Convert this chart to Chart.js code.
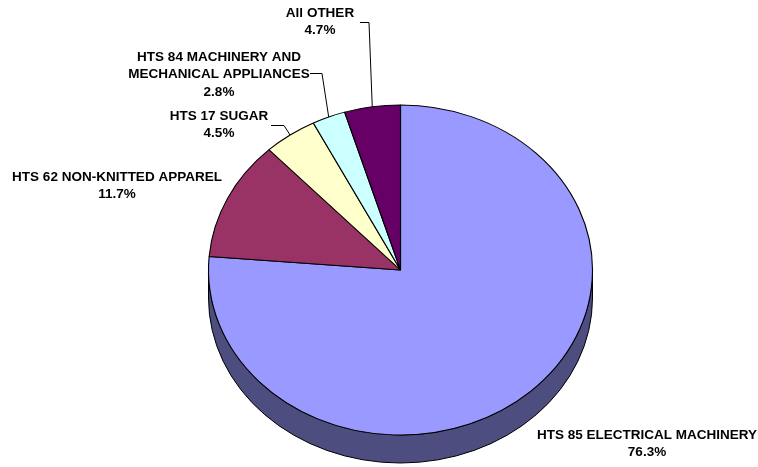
<!DOCTYPE html>
<html><head><meta charset="utf-8">
<script src="https://cdn.jsdelivr.net/npm/chart.js@4/dist/chart.umd.min.js"></script>
<style>html,body{margin:0;padding:0;background:#fff;}#wrap{width:758px;height:467px;}</style>
</head><body><div id="wrap"><canvas id="c" width="758" height="467"></canvas></div>
<script>
const categories = [
  ['HTS 85 ELECTRICAL MACHINERY'],
  ['HTS 62 NON-KNITTED APPAREL'],
  ['HTS 17 SUGAR'],
  ['HTS 84 MACHINERY AND', 'MECHANICAL APPLIANCES'],
  ['All OTHER']
];
const shares = [76.3, 11.7, 4.5, 2.8, 4.7];
const colors = ['#9999FF', '#993366', '#FFFFCC', '#CCFFFF', '#660066'];

// layout of the projected pie and its labels
const GEO = {cx: 400.5, cy: 270, rx: 192, ry: 165, depth: 28};
const LABELS = [
  {x: 647, y: 435, leader: null},
  {x: 117, y: 177, leader: null},
  {x: 219, y: 116, leader: [[271, 125], [284, 125]]},
  {x: 219, y: 57, leader: [[310, 73], [322, 73]]},
  {x: 320, y: 13, leader: [[360, 22], [369, 22]]}
];

function darken(hex, f) {
  const n = parseInt(hex.slice(1), 16);
  const r = Math.round(((n >> 16) & 255) * f), g = Math.round(((n >> 8) & 255) * f), b = Math.round((n & 255) * f);
  return `rgb(${r},${g},${b})`;
}

const pie3d = {
  id: 'pie3d',
  beforeDatasetsDraw(chart) {
    const ctx = chart.ctx;
    const meta = chart.getDatasetMeta(0);
    const {cx, cy, rx, ry, depth} = GEO;
    ctx.save();
    meta.data.forEach((arc, i) => {
      const a = Math.max(arc.startAngle, 0), b = Math.min(arc.endAngle, Math.PI);
      if (b <= a) return;
      ctx.beginPath();
      ctx.ellipse(cx, cy, rx, ry, 0, a, b);
      ctx.ellipse(cx, cy + depth, rx, ry, 0, b, a, true);
      ctx.closePath();
      ctx.fillStyle = darken(colors[i], 0.5);
      ctx.fill();
      ctx.lineWidth = 1;
      ctx.strokeStyle = '#000';
      ctx.stroke();
    });
    ctx.restore();
    const a0 = meta.data[0];
    ctx.save();
    ctx.translate(cx, cy);
    ctx.scale(rx / a0.outerRadius, ry / a0.outerRadius);
    ctx.translate(-a0.x, -a0.y);
  },
  afterDatasetsDraw(chart) {
    chart.ctx.restore();
  },
  afterDraw(chart) {
    const ctx = chart.ctx;
    const meta = chart.getDatasetMeta(0);
    const {cx, cy, rx, ry} = GEO;
    ctx.save();
    ctx.font = 'bold 13.5px "Liberation Sans", Arial, sans-serif';
    ctx.textAlign = 'center';
    ctx.textBaseline = 'middle';
    ctx.fillStyle = '#000';
    ctx.strokeStyle = '#000';
    ctx.lineWidth = 1;
    const labels = chart.data.labels;
    const vals = chart.data.datasets[0].data;
    meta.data.forEach((arc, i) => {
      const L = LABELS[i];
      const lines = labels[i].concat([vals[i].toFixed(1) + '%']);
      lines.forEach((t, k) => ctx.fillText(t, L.x, L.y + k * 17.5));
      if (L.leader) {
        const mid = (arc.startAngle + arc.endAngle) / 2;
        const ex = cx + rx * Math.cos(mid), ey = cy + ry * Math.sin(mid);
        ctx.beginPath();
        ctx.moveTo(L.leader[0][0], L.leader[0][1] + 0.5);
        ctx.lineTo(L.leader[1][0], L.leader[1][1] + 0.5);
        ctx.lineTo(ex, ey);
        ctx.stroke();
      }
    });
    ctx.restore();
  }
};

new Chart(document.getElementById('c'), {
  type: 'pie',
  data: {
    labels: categories,
    datasets: [{data: shares, backgroundColor: colors, borderColor: '#000', borderWidth: 1.3}]
  },
  options: {
    responsive: false,
    animation: false,
    plugins: {legend: {display: false}, tooltip: {enabled: false}},
    layout: {padding: 10}
  },
  plugins: [pie3d]
});
</script></body></html>
